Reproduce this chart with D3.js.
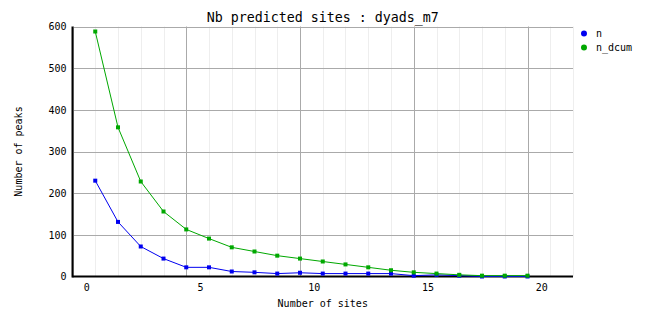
<!DOCTYPE html>
<html>
<head>
<meta charset="utf-8">
<script src="https://cdn.jsdelivr.net/npm/d3@7"></script>
<style>
  body { margin: 0; background: #fff; }
  text { font-family: "DejaVu Sans Mono", "Liberation Mono", monospace; fill: #000; }
</style>
</head>
<body>
<div id="chart"></div>
<script>
// values
var sites = [0.4, 1.4, 2.4, 3.4, 4.4, 5.4, 6.4, 7.4, 8.4, 9.4, 10.4, 11.4, 12.4, 13.4, 14.4, 15.4, 16.4, 17.4, 18.4, 19.4]
var n = [230, 131, 72, 43, 22, 22, 12, 10, 7, 9, 7, 7, 7, 7, 2, 4, 2, 0, 0, 0]
var nDcum = [588, 358, 228, 156, 113, 91, 70, 60, 50, 43, 36, 29, 22, 15, 10, 7, 4, 2, 2, 2]
var xTicks = [0, 5, 10, 15, 20]
var yTicks = [0, 100, 200, 300, 400, 500, 600]
var seriesNames = ['n', 'n_dcum']
var seriesColors = ['#0000f0', '#00a800']

document.addEventListener('DOMContentLoaded', function() {
  var W = 662, H = 328
  var left = 72.5, right = 573, top = 26.5, bottom = 276.5

  var svg = d3.select('#chart').append('svg')
    .attr('width', W)
    .attr('height', H)

  var x = d3.scaleLinear().domain([-0.6, 21.4]).range([left, right])
  var y = d3.scaleLinear().domain([0, 600]).range([bottom, top])

  // minor vertical grid at each site, major every 5
  var gridX = d3.range(-0.6, 21.41, 1)
  svg.append('g').selectAll('line')
    .data(gridX)
    .enter().append('line')
    .attr('x1', function(d) { return Math.round(x(d)) + 0.5 })
    .attr('x2', function(d) { return Math.round(x(d)) + 0.5 })
    .attr('y1', top)
    .attr('y2', bottom)
    .attr('stroke', function(d, i) { return i % 5 === 0 ? '#aaaaaa' : '#eeeeee' })
    .attr('stroke-width', 1)

  svg.append('g').selectAll('line')
    .data(yTicks.slice(1))
    .enter().append('line')
    .attr('x1', left)
    .attr('x2', right)
    .attr('y1', function(d) { return Math.round(y(d)) + 0.5 })
    .attr('y2', function(d) { return Math.round(y(d)) + 0.5 })
    .attr('stroke', '#aaaaaa')

  // axes
  var xAxis = svg.append('g')
    .attr('transform', 'translate(0,' + (bottom + 7) + ')')
    .call(d3.axisBottom(x).tickValues(xTicks).tickSize(0).tickPadding(0).tickFormat(d3.format('d')))
  xAxis.select('.domain').remove()
  xAxis.selectAll('text').attr('dy', '0.71em').style('font-size', '10px')

  var yAxis = svg.append('g')
    .attr('transform', 'translate(' + (left - 6) + ',0)')
    .call(d3.axisLeft(y).tickValues(yTicks).tickSize(0).tickPadding(0).tickFormat(d3.format('d')))
  yAxis.select('.domain').remove()
  yAxis.selectAll('text').style('font-size', '10px')

  svg.append('line')
    .attr('x1', left).attr('x2', left)
    .attr('y1', top).attr('y2', bottom + 1)
    .attr('stroke', '#000').attr('stroke-width', 2)
  svg.append('line')
    .attr('x1', left).attr('x2', right)
    .attr('y1', bottom).attr('y2', bottom)
    .attr('stroke', '#000').attr('stroke-width', 2)

  // series
  var allSeries = [n, nDcum]
  allSeries.forEach(function(vals, k) {
    var pts = sites.map(function(s, i) { return [s, vals[i]] })
    var line = d3.line()
      .x(function(d) { return x(d[0]) })
      .y(function(d) { return y(d[1]) })
    svg.append('path')
      .datum(pts)
      .attr('d', line)
      .attr('fill', 'none')
      .attr('stroke', seriesColors[k])
      .attr('stroke-width', 1)
    svg.append('g').selectAll('rect')
      .data(pts)
      .enter().append('rect')
      .attr('x', function(d) { return x(d[0]) - 2 })
      .attr('y', function(d) { return y(d[1]) - 2 })
      .attr('width', 4)
      .attr('height', 4)
      .attr('fill', seriesColors[k])
  })

  // title and labels
  svg.append('text')
    .attr('x', (left + right) / 2)
    .attr('y', 22)
    .attr('text-anchor', 'middle')
    .style('font-size', '13.3px')
    .text('Nb predicted sites : dyads_m7')

  svg.append('text')
    .attr('x', (left + right) / 2)
    .attr('y', 307)
    .attr('text-anchor', 'middle')
    .style('font-size', '10px')
    .text('Number of sites')

  svg.append('text')
    .attr('transform', 'translate(22,' + ((top + bottom) / 2) + ') rotate(-90)')
    .attr('text-anchor', 'middle')
    .style('font-size', '10px')
    .text('Number of peaks')

  // legend
  var legend = svg.append('g').selectAll('g')
    .data(seriesNames)
    .enter().append('g')
    .attr('transform', function(d, i) { return 'translate(584,' + (33.5 + i * 14) + ')' })
  legend.append('path')
    .attr('d', d3.symbol().type(d3.symbolCircle).size(28))
    .attr('fill', function(d, i) { return seriesColors[i] })
  legend.append('text')
    .attr('x', 12)
    .attr('dy', '0.35em')
    .style('font-size', '10px')
    .text(function(d) { return d })
})
</script>
</body>
</html>
